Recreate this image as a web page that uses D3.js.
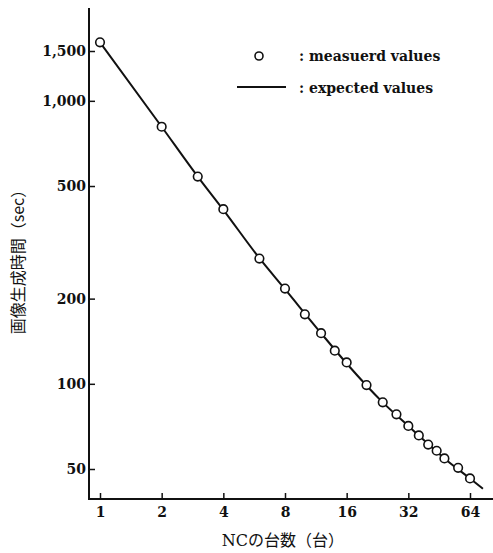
<!DOCTYPE html>
<html>
<head>
<meta charset="utf-8">
<title>NC count vs image generation time</title>
<script src="https://d3js.org/d3.v7.min.js"></script>
<style>
  body { margin: 0; background: #fff; }
  text { font-family: "DejaVu Serif", "Liberation Serif", serif; fill: #111; }
  .jp { font-family: "Noto Sans CJK JP", sans-serif; }
</style>
</head>
<body>
<div class="chart"></div>
<script>
// measured values (circles)
var measuredN = [1, 2, 3, 4, 6, 8, 10, 12, 14, 16, 20, 24, 28, 32, 36, 40, 44, 48, 56, 64];
var measuredT = [1610, 810, 540, 414, 277, 217, 176, 151, 131, 119, 99, 86, 78, 71, 65.7, 61, 58, 54.5, 50.5, 46.3];

// expected values (line)
var expectedN = [1, 2, 3, 4, 6, 8, 12, 16, 24, 32, 48, 64, 74];
var expectedT = [1610, 810, 540, 412, 278, 216, 151, 118, 86, 71, 54.5, 46.3, 42.6];

var xTicks = [1, 2, 4, 8, 16, 32, 64];
var yTicks = [50, 100, 200, 500, 1000, 1500];

const width = 493;
const height = 553;

const svg = d3.select('.chart')
    .append('svg')
    .attr('width', width)
    .attr('height', height);

const x = d3.scaleLog().base(2).domain([1, 64]).range([100, 470]);
const y = d3.scaleLog().domain([50, 1500]).range([469, 51]);

const axisX = 89;   // y axis position
const axisY = 499;  // x axis position

// axis lines
svg.append('line')
    .attr('x1', axisX).attr('x2', axisX)
    .attr('y1', 8).attr('y2', axisY + 1)
    .attr('stroke', '#111').attr('stroke-width', 2);
svg.append('line')
    .attr('x1', axisX - 1).attr('x2', 493)
    .attr('y1', axisY).attr('y2', axisY)
    .attr('stroke', '#111').attr('stroke-width', 2);

// y axis ticks (pointing inward)
const gy = svg.append('g')
    .attr('transform', 'translate(' + axisX + ',0)')
    .call(d3.axisLeft(y)
        .tickValues(yTicks)
        .tickSize(-6)
        .tickPadding(3)
        .tickFormat(d3.format(',')));
gy.select('.domain').remove();
gy.selectAll('.tick line').attr('stroke', '#111').attr('stroke-width', 1.5);
gy.selectAll('.tick text')
    .attr('font-size', '14px')
    .attr('font-weight', 'bold')
    .attr('font-family', '"DejaVu Serif", serif')
    .attr('fill', '#111');

// x axis ticks (pointing inward)
const gx = svg.append('g')
    .attr('transform', 'translate(0,' + axisY + ')')
    .call(d3.axisBottom(x)
        .tickValues(xTicks)
        .tickSize(-6)
        .tickPadding(8)
        .tickFormat(d3.format('d')));
gx.select('.domain').remove();
gx.selectAll('.tick line').attr('stroke', '#111').attr('stroke-width', 1.5);
gx.selectAll('.tick text')
    .attr('font-size', '14px')
    .attr('font-weight', 'bold')
    .attr('font-family', '"DejaVu Serif", serif')
    .attr('fill', '#111');

// expected line
const line = d3.line()
    .x(function(d, i) { return x(expectedN[i]); })
    .y(function(d) { return y(d); })
    .curve(d3.curveMonotoneX);

svg.append('path')
    .datum(expectedT)
    .attr('d', line)
    .attr('fill', 'none')
    .attr('stroke', '#111')
    .attr('stroke-width', 2);

// measured points
svg.selectAll('circle.pt')
    .data(measuredT)
    .enter()
    .append('circle')
    .attr('class', 'pt')
    .attr('cx', function(d, i) { return x(measuredN[i]); })
    .attr('cy', function(d) { return y(d); })
    .attr('r', 4.3)
    .attr('fill', '#fff')
    .attr('stroke', '#111')
    .attr('stroke-width', 1.6);

// legend
svg.append('circle')
    .attr('cx', 259).attr('cy', 56).attr('r', 4)
    .attr('fill', '#fff').attr('stroke', '#111').attr('stroke-width', 1.6);
svg.append('line')
    .attr('x1', 237).attr('x2', 286)
    .attr('y1', 87).attr('y2', 87)
    .attr('stroke', '#111').attr('stroke-width', 2);
svg.append('text')
    .attr('x', 299).attr('y', 61)
    .attr('font-size', '14px').attr('font-weight', 'bold')
    .text(': measuerd values');
svg.append('text')
    .attr('x', 299).attr('y', 93)
    .attr('font-size', '14px').attr('font-weight', 'bold')
    .text(': expected values');

// axis titles
const xt = svg.append('text')
    .attr('x', 283).attr('y', 546)
    .attr('text-anchor', 'middle')
    .attr('font-size', '16px');
xt.append('tspan').attr('font-family', '"DejaVu Serif", serif').text('NC');
xt.append('tspan').attr('class', 'jp').text('の台数（台）');

svg.append('text')
    .attr('class', 'jp')
    .attr('transform', 'translate(24,258) rotate(-90)')
    .attr('text-anchor', 'middle')
    .attr('font-size', '16px')
    .text('画像生成時間（sec）');
</script>
</body>
</html>
